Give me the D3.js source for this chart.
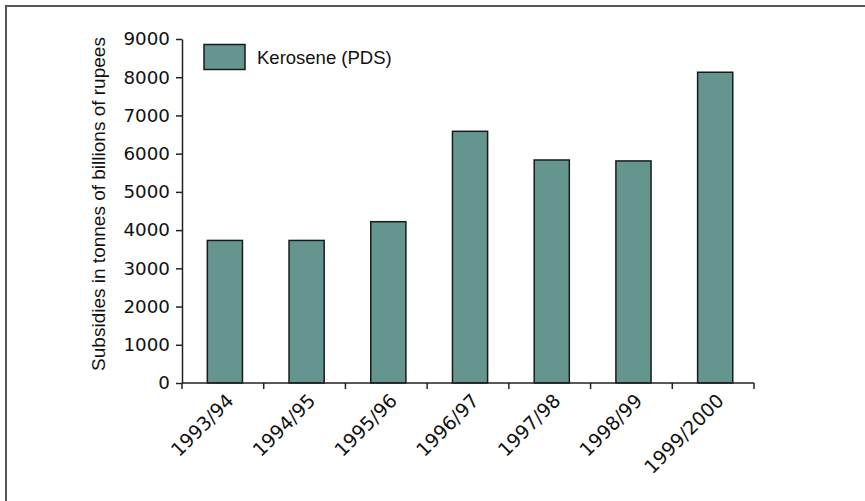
<!DOCTYPE html>
<html><head><meta charset="utf-8">
<script src="https://cdn.jsdelivr.net/npm/d3@7"></script>
<style>
html,body{margin:0;padding:0;background:#fff;}
svg{display:block;}
text{font-family:"Liberation Sans",Arial,sans-serif;fill:#111;}
.num{font-family:"DejaVu Sans",sans-serif;}
</style></head>
<body>
<svg id="c" width="865" height="501"></svg>
<script>
const categories = ["1993/94","1994/95","1995/96","1996/97","1997/98","1998/99","1999/2000"];
const keroseneValues = [3730, 3730, 4220, 6585, 5835, 5810, 8130];
const yTicks = [0,1000,2000,3000,4000,5000,6000,7000,8000,9000];
const seriesName = "Kerosene (PDS)";
const yTitle = "Subsidies in tonnes of billions of rupees";

const svg = d3.select("#c");
// frame
svg.append("rect").attr("x",6).attr("y",6).attr("width",880).attr("height",520)
  .attr("fill","none").attr("stroke","#555").attr("stroke-width",2);

const x = d3.scaleBand().domain(categories).range([182,754]).padding(0);
const y = d3.scaleLinear().domain([0,9000]).range([383,39]);

const g = svg.append("g");
// bars
g.selectAll("rect.bar").data(categories).join("rect")
  .attr("class","bar")
  .attr("x",d=>x(d)+x.bandwidth()*0.31)
  .attr("width",x.bandwidth()*0.43)
  .attr("y",(d,i)=>y(keroseneValues[i]))
  .attr("height",(d,i)=>y(0)-y(keroseneValues[i]))
  .attr("fill","#64968f").attr("stroke","#1a1a1a").attr("stroke-width",1.5);

// y axis
const yAxis = g.append("g").attr("transform","translate(182,0)")
  .call(d3.axisLeft(y).tickValues(yTicks).tickSize(6).tickPadding(6).tickSizeOuter(0).tickFormat(d3.format("d")));
yAxis.select(".domain").attr("stroke","#222").attr("stroke-width",1.5);
yAxis.selectAll(".tick line").attr("stroke","#222").attr("stroke-width",1.5);
yAxis.selectAll("text").attr("class","num").style("font-size","18.3px").attr("fill","#111");

// x axis
const xg = g.append("g");
xg.append("line").attr("x1",x.range()[0]).attr("x2",x.range()[1]).attr("y1",383).attr("y2",383)
  .attr("stroke","#222").attr("stroke-width",1.5);
const edges = categories.map(c=>x(c)).concat([x.range()[1]]);
xg.selectAll("line.t").data(edges).join("line").attr("class","t")
  .attr("x1",d=>d).attr("x2",d=>d).attr("y1",383).attr("y2",389)
  .attr("stroke","#222").attr("stroke-width",1.5);
xg.selectAll("text").data(categories).join("text")
  .attr("class","num")
  .attr("transform",d=>`translate(${x(d)+x.bandwidth()/2+12},${402}) rotate(-45)`)
  .attr("text-anchor","end")
  .style("font-size","19px")
  .text(d=>d);

// y title
svg.append("text")
  .attr("transform","translate(105,204) rotate(-90)")
  .attr("text-anchor","middle")
  .style("font-size","19px")
  .text(yTitle);

// legend
svg.append("rect").attr("x",204).attr("y",44.5).attr("width",41).attr("height",25)
  .attr("fill","#64968f").attr("stroke","#1a1a1a").attr("stroke-width",1.5);
svg.append("text").attr("x",257).attr("y",64).style("font-size","18.5px").text(seriesName);
</script>
</body></html>
